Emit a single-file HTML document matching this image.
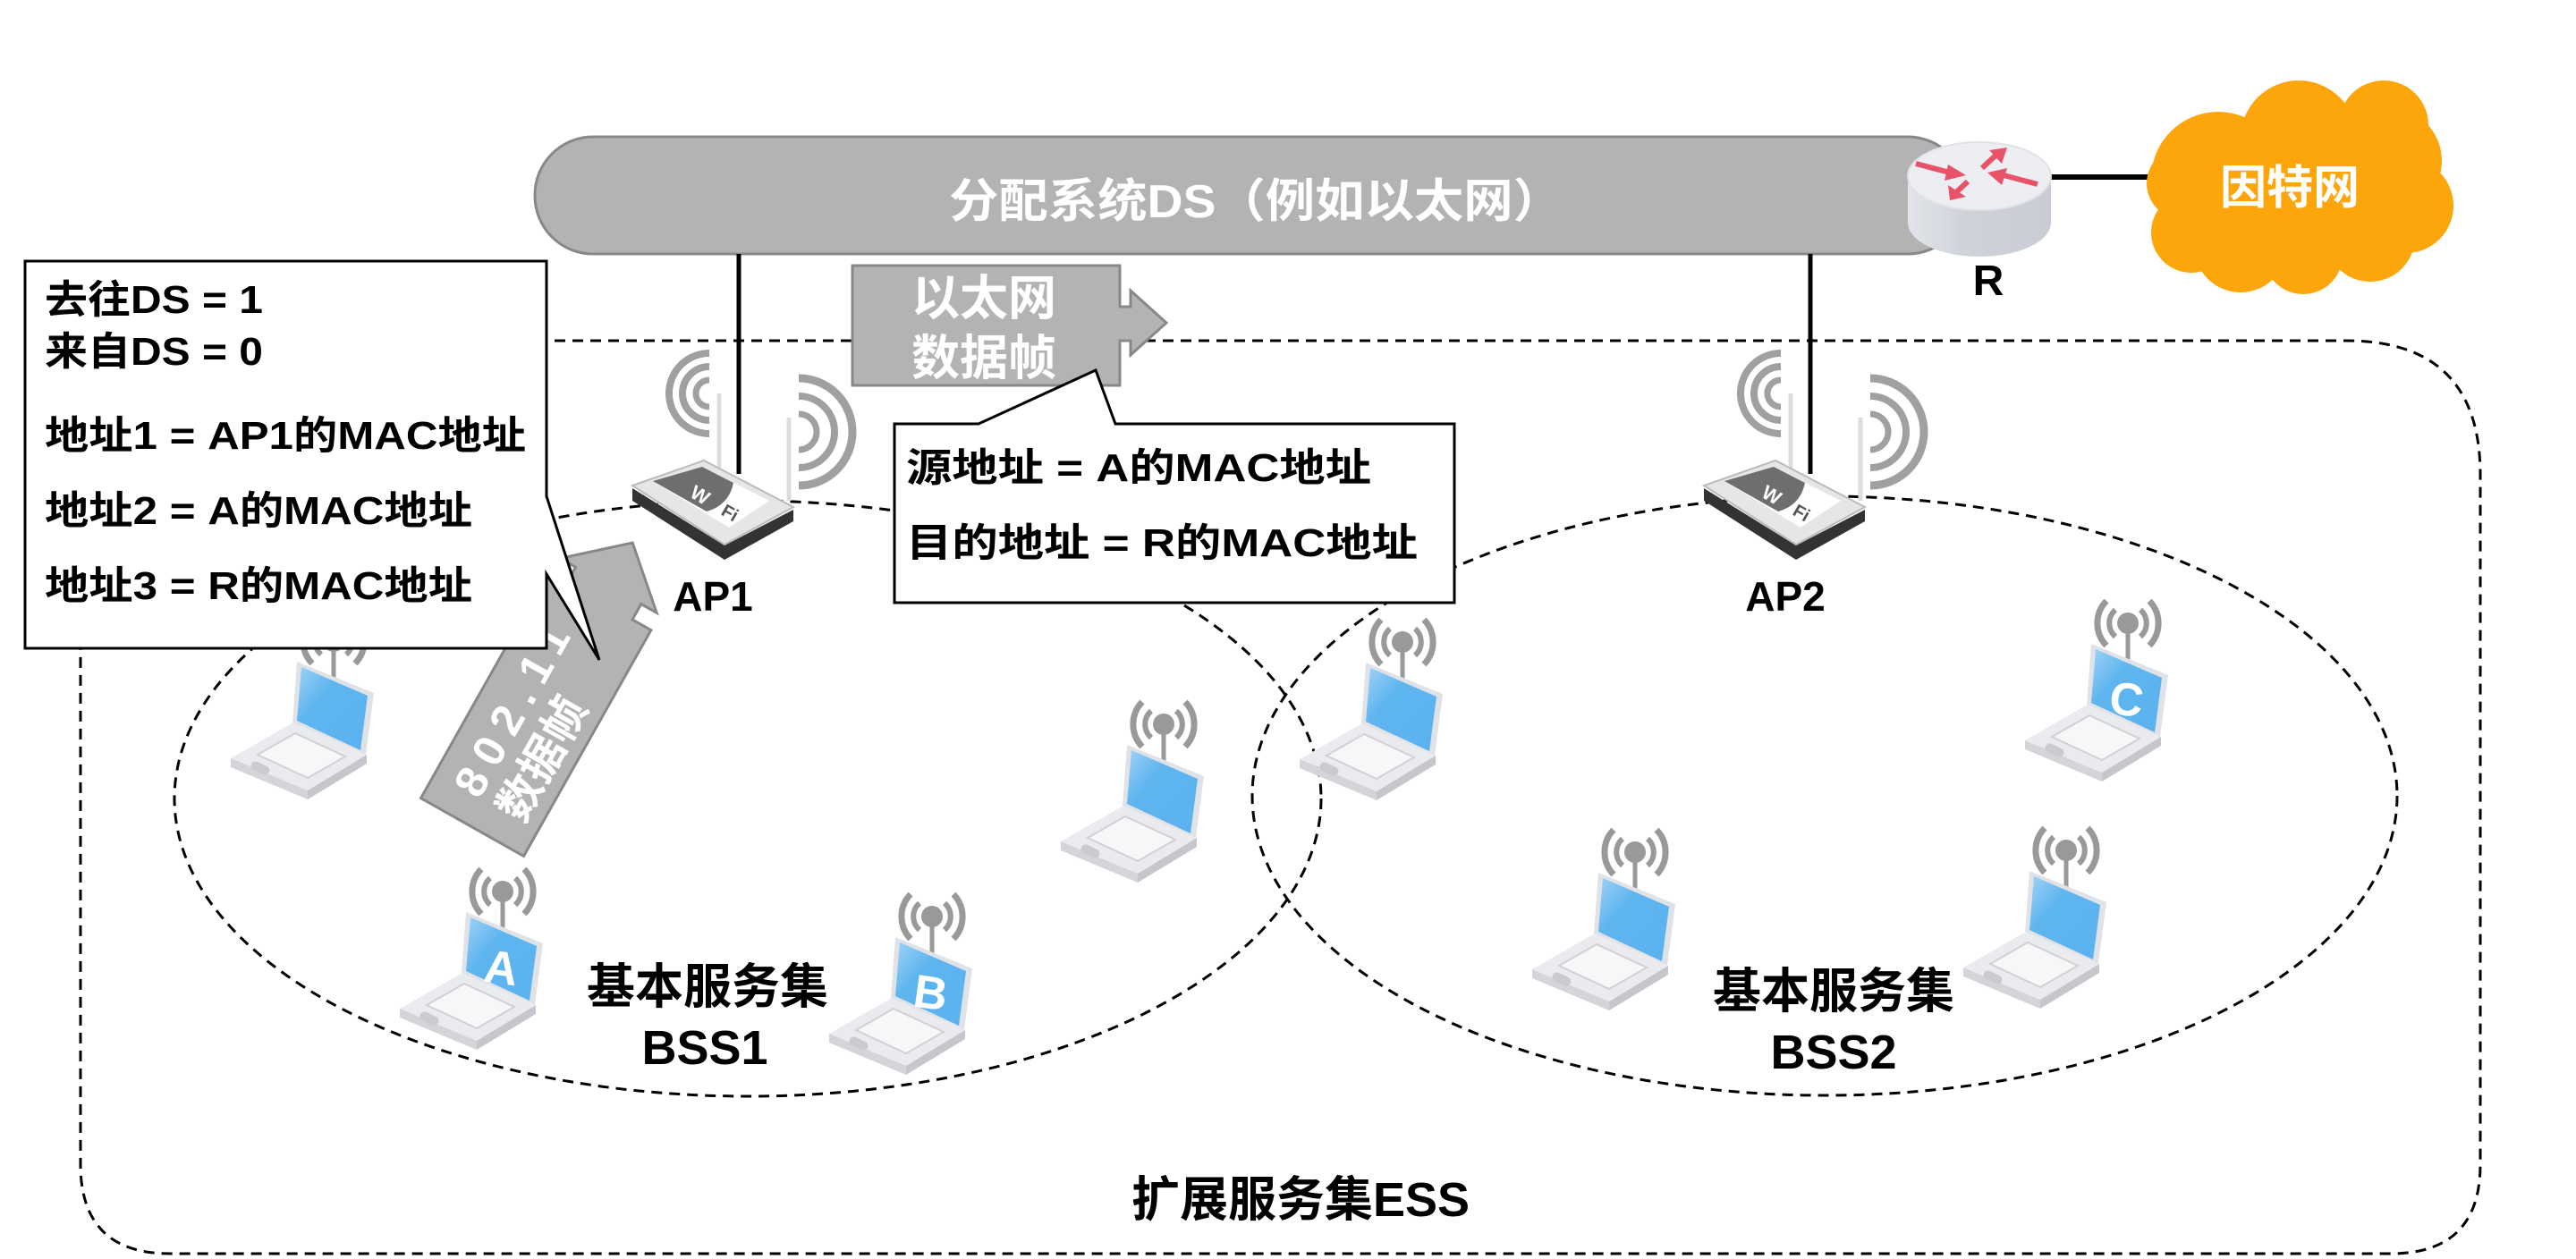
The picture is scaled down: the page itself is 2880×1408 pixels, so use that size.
<!DOCTYPE html>
<html><head><meta charset="utf-8"><style>
html,body{margin:0;padding:0;background:#fff;}
svg{display:block;}
text{font-family:"Liberation Sans","Noto Sans CJK SC",sans-serif;font-weight:bold;}
</style></head><body>
<svg width="2880" height="1408" viewBox="0 0 2880 1408" xmlns="http://www.w3.org/2000/svg">
<defs>
<linearGradient id="scr" x1="0" y1="0" x2="1" y2="1">
<stop offset="0" stop-color="#9fd2f7"/><stop offset="0.35" stop-color="#5fb5ee"/><stop offset="1" stop-color="#5ab2ef"/></linearGradient>
<linearGradient id="cyl" x1="0" y1="0" x2="1" y2="0">
<stop offset="0" stop-color="#e3e5ea"/><stop offset="0.4" stop-color="#cfd2d9"/><stop offset="1" stop-color="#c9ccd4"/></linearGradient>
<g id="lap">
  <path d="M91,-50 A36,36 0 0,0 91,0" fill="none" stroke="#999" stroke-width="7"/>
  <path d="M139,-50 A36,36 0 0,1 139,0" fill="none" stroke="#999" stroke-width="7"/>
  <path d="M101,-40 A20,20 0 0,0 101,-10" fill="none" stroke="#999" stroke-width="6"/>
  <path d="M129,-40 A20,20 0 0,1 129,-10" fill="none" stroke="#999" stroke-width="6"/>
  <line x1="115" y1="-25" x2="115" y2="18" stroke="#999" stroke-width="5"/>
  <circle cx="115" cy="-25" r="12" fill="#999"/>
  <polygon points="74,-2 160,33 151,102 69,67" fill="#dfe2e7"/>
  <polygon points="79,4 153,36 145,97 74,64" fill="url(#scr)"/>
  <polygon points="0,106 70,66 152,102 86,142" fill="#e9ebee"/>
  <polygon points="0,106 86,142 86,152 0,116" fill="#d3d5d9"/>
  <polygon points="86,142 152,102 152,112 86,152" fill="#c5c7cc"/>
  <polygon points="30,102 72,78 128,104 86,128" fill="#f7f7f8" stroke="#cfd1d5" stroke-width="2"/>
  <rect x="22" y="112" width="22" height="10" rx="5" fill="#c9cbd0" transform="rotate(25 33 117)"/>
</g>
<g id="ap">
  <path d="M793,395 A45,45 0 0,0 793,485" fill="none" stroke="#a0a0a0" stroke-width="8"/>
  <path d="M793,410 A30,30 0 0,0 793,470" fill="none" stroke="#a0a0a0" stroke-width="8"/>
  <path d="M793,425 A15,15 0 0,0 793,455" fill="none" stroke="#a0a0a0" stroke-width="7"/>
  <path d="M893,423 A60,60 0 0,1 893,543" fill="none" stroke="#a0a0a0" stroke-width="9"/>
  <path d="M893,443 A40,40 0 0,1 893,523" fill="none" stroke="#a0a0a0" stroke-width="8"/>
  <path d="M893,463 A20,20 0 0,1 893,503" fill="none" stroke="#a0a0a0" stroke-width="7"/>
  <line x1="804" y1="440" x2="804" y2="525" stroke="#ddd" stroke-width="5"/>
  <line x1="882" y1="467" x2="882" y2="560" stroke="#ddd" stroke-width="5"/>
  <polygon points="707,546 810,610 887,570 887,583 810,626 707,560" fill="#333"/>
  <polygon points="707,543 787,515 887,567 810,609" fill="#e6e6e6" stroke="#bbb" stroke-width="2"/>
  <polygon points="730,538 785,522 860,560 815,590" fill="#fff"/>
  <path d="M730,538 L785,522 L820,540 Q815,565 790,572 Z" fill="#6e6e6e"/>
  <text x="770" y="555" font-size="22" fill="#fff" transform="rotate(30 770 555)">W</text>
  <text x="805" y="575" font-size="20" fill="#555" transform="rotate(30 805 575)">Fi</text>
</g>
</defs>

<path d="M240,381 H2623 Q2773,381 2773,531 V1302 Q2773,1402 2673,1402 H190 Q90,1402 90,1302 V531 Q90,381 240,381 Z" fill="none" stroke="#000" stroke-width="3" stroke-dasharray="12,8"/>
<ellipse cx="836" cy="893" rx="641" ry="333" fill="none" stroke="#000" stroke-width="3" stroke-dasharray="12,8"/>
<ellipse cx="2040" cy="890" rx="640" ry="335" fill="none" stroke="#000" stroke-width="3" stroke-dasharray="12,8"/>

<rect x="598" y="153" width="1600" height="131" rx="65" fill="#b3b3b3" stroke="#888" stroke-width="3"/>
<text x="1061" y="243" font-size="52" fill="#fff" textLength="686" lengthAdjust="spacingAndGlyphs">分配系统DS（例如以太网）</text>

<line x1="826" y1="284" x2="826" y2="530" stroke="#000" stroke-width="5"/>
<line x1="2024" y1="284" x2="2024" y2="530" stroke="#000" stroke-width="5"/>

<line x1="2290" y1="198" x2="2405" y2="198" stroke="#000" stroke-width="6"/>
<path d="M2133,197 V249 A80,38 0 0,0 2293,249 V197 Z" fill="url(#cyl)"/>
<ellipse cx="2213" cy="197" rx="80" ry="38" fill="#eceef2" stroke="#e0e2e6" stroke-width="2"/>
<g fill="#e8536a" stroke="#e8536a" stroke-width="6">
<line x1="2142" y1="183" x2="2180" y2="193"/><polygon points="2178,184 2198,196 2174,202" stroke="none"/>
<line x1="2216" y1="188" x2="2232" y2="173"/><polygon points="2224,168 2244,165 2238,183" stroke="none"/>
<line x1="2278" y1="206" x2="2240" y2="196"/><polygon points="2244,188 2222,193 2238,207" stroke="none"/>
<line x1="2200" y1="203" x2="2186" y2="216"/><polygon points="2178,207 2180,224 2198,220" stroke="none"/>
</g>
<text x="2223" y="330" font-size="48" text-anchor="middle" fill="#000">R</text>

<g fill="#fda60b">
<circle cx="2480" cy="200" r="75"/><circle cx="2570" cy="155" r="65"/><circle cx="2665" cy="140" r="50"/>
<circle cx="2670" cy="180" r="60"/><circle cx="2690" cy="230" r="53"/><circle cx="2440" cy="205" r="40"/>
<circle cx="2450" cy="260" r="45"/><circle cx="2505" cy="275" r="52"/><circle cx="2575" cy="285" r="44"/>
<circle cx="2650" cy="265" r="50"/><ellipse cx="2570" cy="215" rx="130" ry="80"/>
</g>
<text x="2560" y="228" font-size="52" text-anchor="middle" fill="#fff">因特网</text>

<use href="#ap"/>
<use href="#ap" transform="translate(1198,0)"/>
<text x="797" y="683" font-size="46" text-anchor="middle" fill="#000">AP1</text>
<text x="1996" y="683" font-size="46" text-anchor="middle" fill="#000">AP2</text>

<use href="#lap" transform="translate(258,742)"/>
<use href="#lap" transform="translate(447,1022)"/>
<use href="#lap" transform="translate(927,1050)"/>
<use href="#lap" transform="translate(1186,835)"/>
<use href="#lap" transform="translate(1453,743)"/>
<use href="#lap" transform="translate(2264,722)"/>
<use href="#lap" transform="translate(1713,978)"/>
<use href="#lap" transform="translate(2195,976)"/>
<text x="560" y="1100" font-size="52" text-anchor="middle" fill="#fff" transform="rotate(8 560 1085)">A</text>
<text x="1040" y="1128" font-size="52" text-anchor="middle" fill="#fff" transform="rotate(8 1040 1113)">B</text>
<text x="2377" y="800" font-size="52" text-anchor="middle" fill="#fff" transform="rotate(8 2377 785)">C</text>

<g transform="translate(528,925) rotate(-60.6)">
<polygon points="0,-66 290,-66 290,-42 310,-42 310,-62 365,0 310,62 310,42 290,42 290,66 0,66" fill="#b3b3b3" stroke="#888" stroke-width="3"/>
<text x="30" y="-8" font-size="50" fill="#fff" letter-spacing="12">802.11</text>
<text x="30" y="48" font-size="50" fill="#fff">数据帧</text>
</g>

<polygon points="953,297 1252,297 1252,343 1264,343 1264,325 1304,361 1264,397 1264,381 1252,381 1252,431 953,431" fill="#b3b3b3" stroke="#888" stroke-width="3"/>
<text x="1100" y="352" font-size="54" text-anchor="middle" fill="#fff">以太网</text>
<text x="1100" y="419" font-size="54" text-anchor="middle" fill="#fff">数据帧</text>

<path d="M28,292 H611 V555 L670,738 L611,642 V725 H28 Z" fill="#fff" stroke="#000" stroke-width="3"/>
<g font-size="44" fill="#000">
<text x="50" y="350" textLength="244" lengthAdjust="spacingAndGlyphs">去往DS = 1</text>
<text x="50" y="408" textLength="244" lengthAdjust="spacingAndGlyphs">来自DS = 0</text>
<text x="50" y="502" textLength="538" lengthAdjust="spacingAndGlyphs">地址1 = AP1的MAC地址</text>
<text x="50" y="586" textLength="478" lengthAdjust="spacingAndGlyphs">地址2 = A的MAC地址</text>
<text x="50" y="670" textLength="478" lengthAdjust="spacingAndGlyphs">地址3 = R的MAC地址</text>
</g>

<path d="M1005,474 H1099 L1230,414 L1252,474 H1631 V674 H1005 Z" fill="#fff" stroke="#000" stroke-width="3" transform="translate(-5,0)"/>
<g font-size="44" fill="#000">
<text x="1013" y="538" textLength="520" lengthAdjust="spacingAndGlyphs">源地址 = A的MAC地址</text>
<text x="1013" y="622" textLength="572" lengthAdjust="spacingAndGlyphs">目的地址 = R的MAC地址</text>
</g>

<g font-size="54" fill="#000" text-anchor="middle">
<text x="791" y="1122">基本服务集</text>
<text x="788" y="1190">BSS1</text>
<text x="2050" y="1127">基本服务集</text>
<text x="2050" y="1195">BSS2</text>
<text x="1454" y="1360">扩展服务集ESS</text>
</g>
</svg>
</body></html>
